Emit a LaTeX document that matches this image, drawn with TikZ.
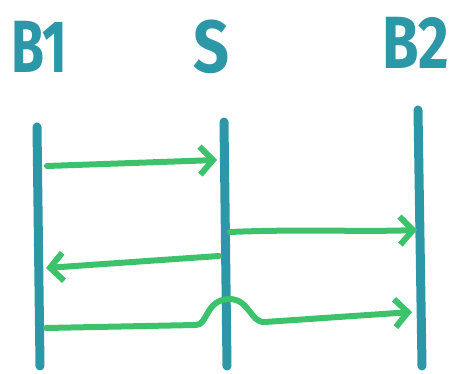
\documentclass[tikz,border=0pt]{standalone}
\usepackage{fontspec}
\setmainfont{Fira Sans}
\usetikzlibrary{arrows.meta}
\definecolor{teal1}{HTML}{2C97A6}
\definecolor{green1}{HTML}{3DC26C}
\tikzset{
  lifeline/.style={draw=teal1, line width=9pt, line cap=round},
  msg/.style={draw=green1, line width=6pt, line cap=round, line join=round,
    -{Straight Barb[length=13pt,width=28pt,line width=6pt]}},
  lbl/.style={text=teal1, font=\fontsize{74}{74}\selectfont\bfseries, inner sep=0pt}
}
\begin{document}
\begin{tikzpicture}[x=1pt,y=-1pt]
\useasboundingbox (0,0) rectangle (459,374);
\node[lbl, xscale=0.72] (lB1) at (39,47) {B1};
\node[lbl, xscale=0.85] (lS) at (211,47) {S};
\node[lbl, xscale=0.8] (lB2) at (416,43) {B2};
\coordinate (b1t) at (37,127);
\coordinate (b1b) at (40,366);
\coordinate (st) at (224,122);
\coordinate (sb) at (227,366);
\coordinate (b2t) at (418,110);
\coordinate (b2b) at (422,366);
\draw[lifeline] (b1t) -- (b1b);
\draw[lifeline] (st) -- (sb);
\draw[lifeline] (b2t) -- (b2b);
% messages
\coordinate (m1s) at (47,166);
\coordinate (m1e) at (217,160);
\coordinate (m2s) at (230,232);
\coordinate (m2e) at (417,230);
\coordinate (m3s) at (219,256);
\coordinate (m3e) at (46,268);
\coordinate (m4s) at (46,328);
\coordinate (m4e) at (412,312);
\draw[msg] (m1s) -- (m1e);
\draw[msg] (m2s) .. controls (300,229) and (360,232) .. (m2e);
\draw[msg] (m3s) -- (m3e);
\draw[msg] (m4s) -- (196,325) .. controls (208,325) and (205,300) .. (229,299)
  .. controls (250,299) and (250,323) .. (265,322) -- (m4e);
\end{tikzpicture}
\end{document}
